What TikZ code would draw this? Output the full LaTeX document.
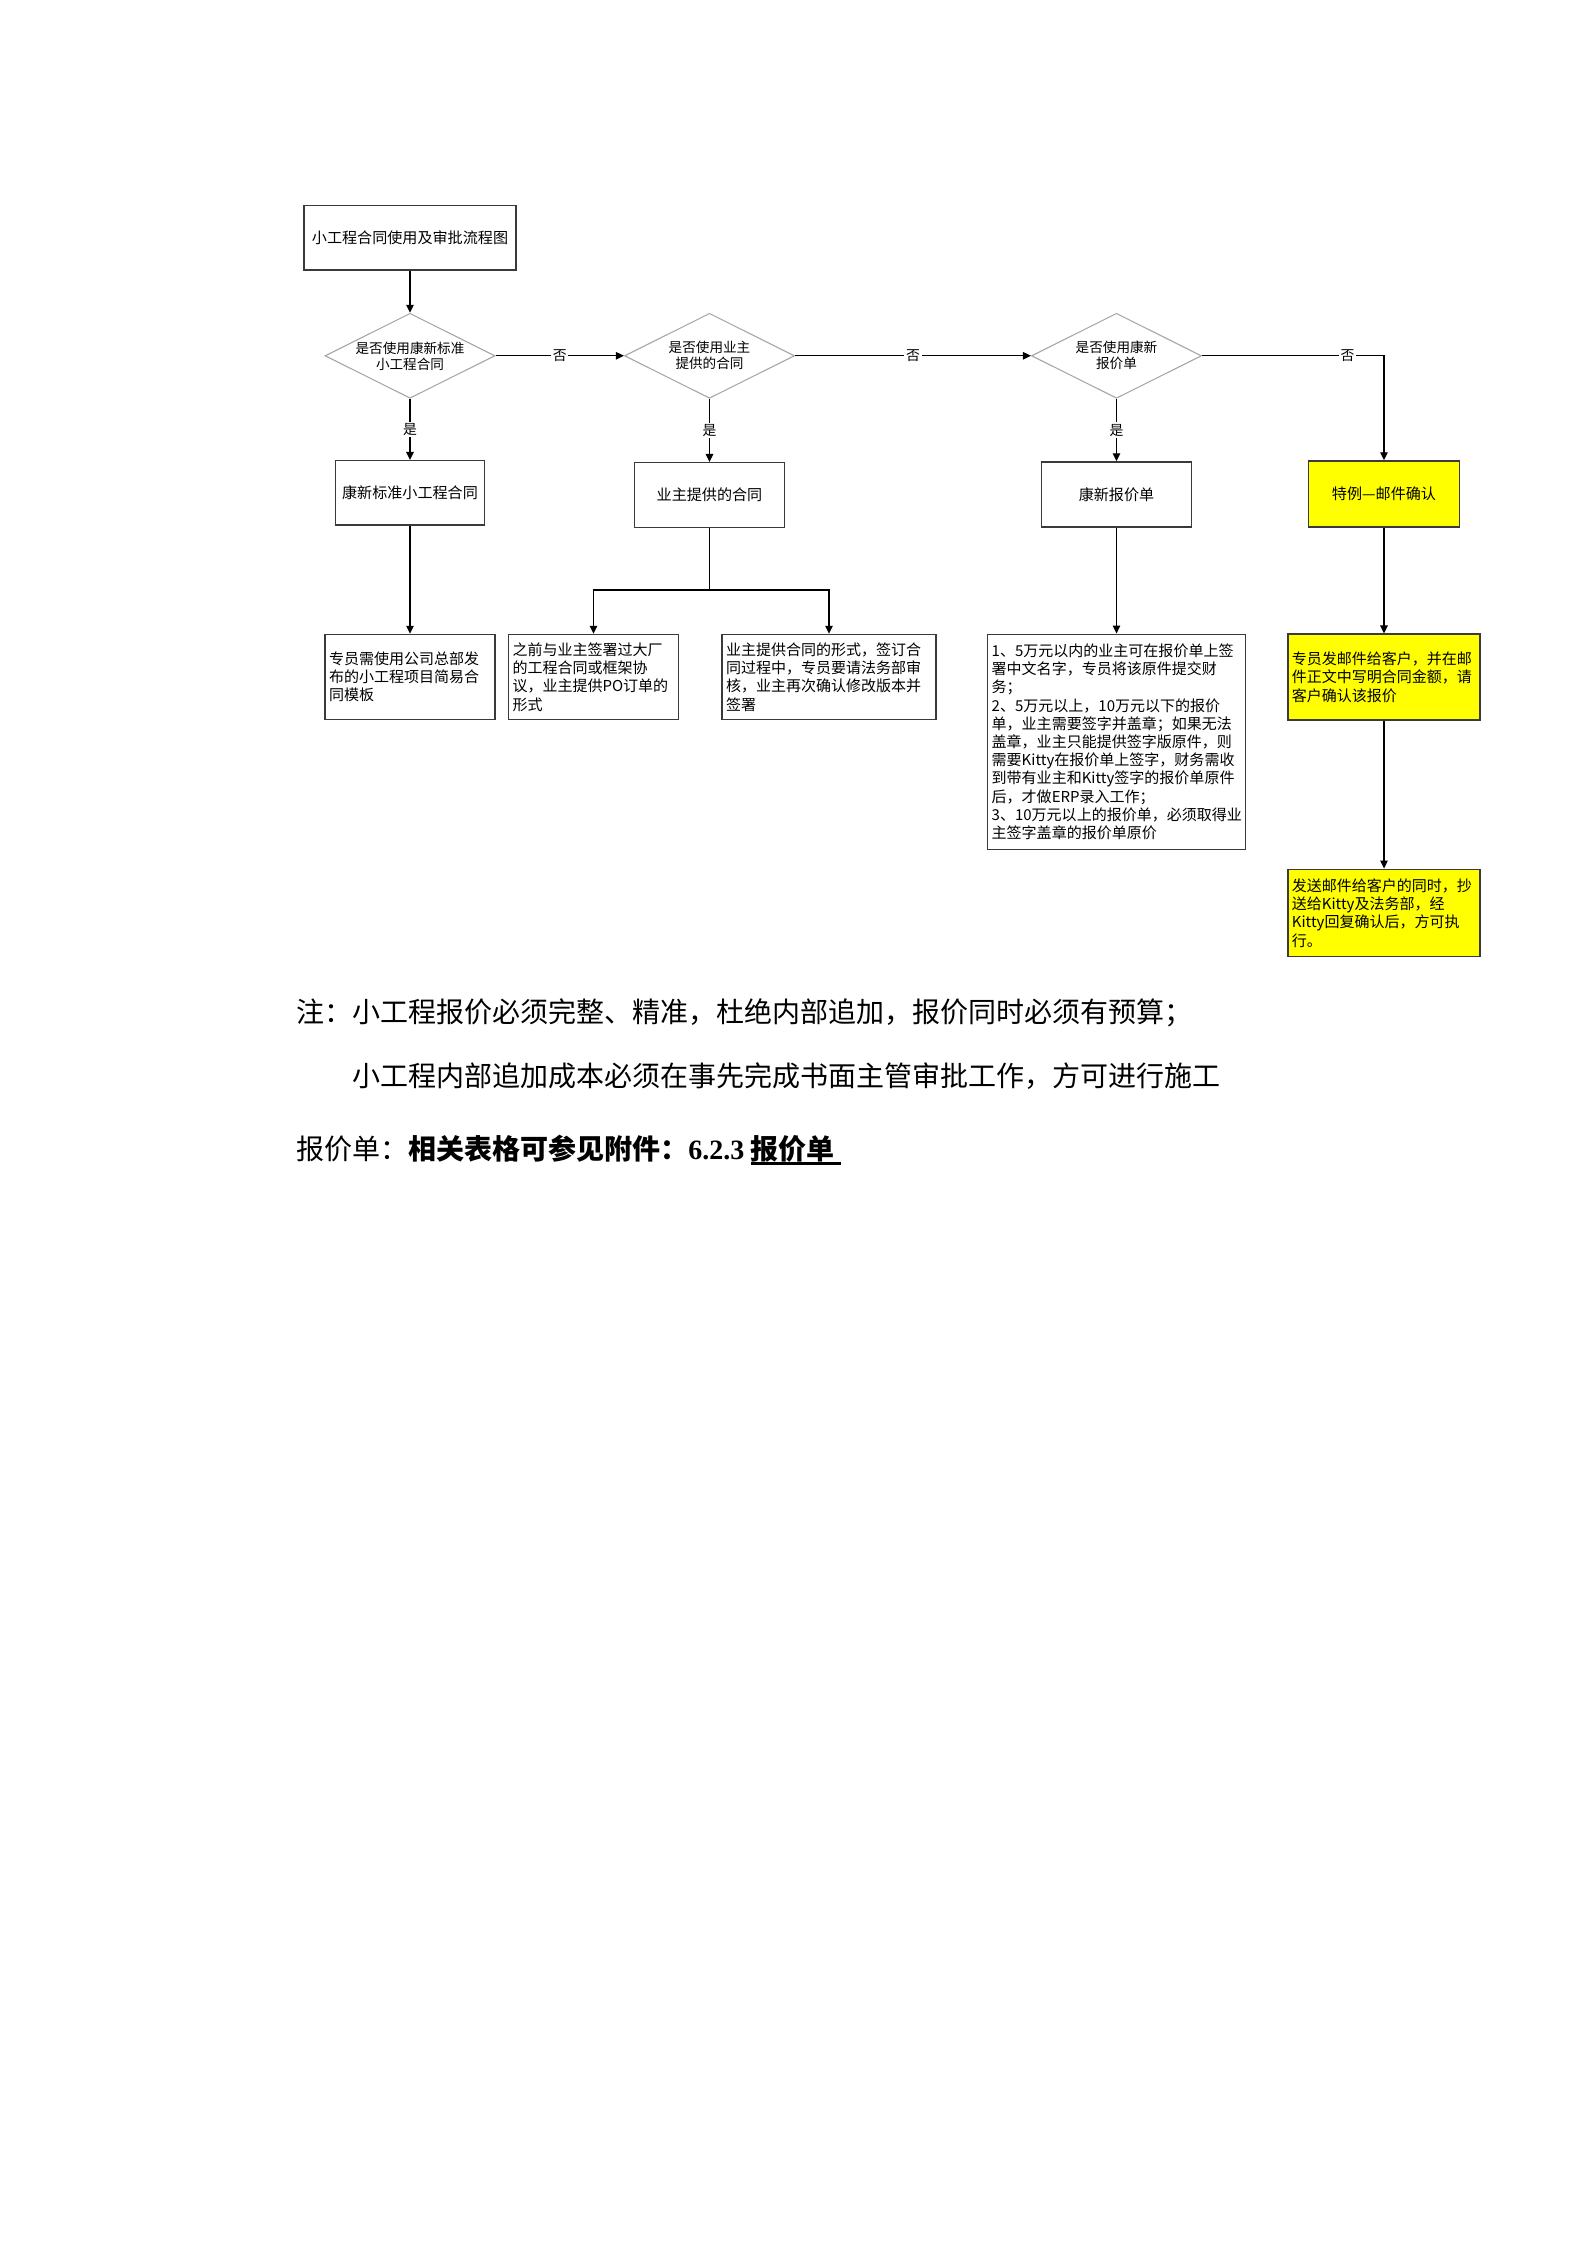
\documentclass[tikz,border=0pt]{standalone}
\usepackage{fontspec}
\setmainfont{Noto Sans CJK SC}
\newfontfamily\lser{Liberation Serif}
\usetikzlibrary{shapes.geometric,arrows.meta}
\definecolor{bord}{HTML}{3A3A3A}
\definecolor{yel}{HTML}{FFFF00}
\newcommand\myul[1]{\setbox0\hbox{#1}\rlap{\rule[-1.9pt]{\wd0}{0.9pt}}\box0}
\tikzset{
  pxs/.style 2 args={minimum width=#1*0.37505pt, minimum height=#2*0.37505pt},
  tw/.style={text width=#1*0.37505pt},
  box/.style={draw=bord, line width=0.55pt, fill=white, inner sep=0pt, font=\fontsize{5.66}{6.8}\selectfont},
  ybox/.style={box, fill=yel},
  tbox/.style={draw=bord, line width=0.55pt, fill=white, inner xsep=1.5pt, inner ysep=0pt, align=left, font=\fontsize{5.63}{6.83}\selectfont},
  ytbox/.style={tbox, fill=yel},
  dia/.style={diamond, draw=black!35, line width=0.4pt, fill=white, inner sep=0pt, minimum width=170*0.37505pt, minimum height=85*0.37505pt},
  dtxt/.style={align=center, inner sep=0pt, font=\fontsize{5.1}{6.0}\selectfont},
  conn/.style={draw=black, line width=0.5pt, -{Triangle[length=3pt,width=2.8pt]}},
  plain/.style={draw=black, line width=0.5pt},
  lbl/.style={fill=white, inner sep=0.6pt, font=\fontsize{5.2}{6}\selectfont},
  note/.style={anchor=base west, inner sep=0pt, font=\fontsize{10.5}{12.6}\selectfont},
}
\begin{document}
\begin{tikzpicture}[x=0.37505pt, y=-0.37505pt]
\useasboundingbox[fill=white] (0,0) rectangle (1587,2245);

% top row
\node[box, pxs={212.4}{64.3}] (title) at (410,237.8) {小工程合同使用及审批流程图};

\node[dia] (d1) at (410,355.8) {};
\node[dtxt] (d1t) at (d1.center) {是否使用康新标准\\小工程合同};
\node[dia] (d2) at (709.5,355.8) {};
\node[dtxt] (d2t) at (d2.center) {是否使用业主\\提供的合同};
\node[dia] (d3) at (1116.5,355.8) {};
\node[dtxt] (d3t) at (d3.center) {是否使用康新\\报价单};

\node[box, pxs={149.3}{64.3}] (b1) at (410,492.8) {康新标准小工程合同};
\node[box, pxs={150}{64.6}] (b2) at (709.5,495) {业主提供的合同};
\node[box, pxs={149.6}{65}] (b3) at (1116.5,494.5) {康新报价单};
\node[ybox, pxs={150.9}{66}] (y1) at (1384,494) {特例—邮件确认};

% lower boxes
\node[tbox, tw=162, minimum height=85*0.37505pt] (bA) at (410,677)
  {专员需使用公司总部发\\布的小工程项目简易合\\同模板};
\node[tbox, tw=162, minimum height=85*0.37505pt] (bB) at (593.5,677)
  {之前与业主签署过大厂\\的工程合同或框架协\\议，业主提供PO订单的\\形式};
\node[tbox, tw=206, minimum height=85*0.37505pt] (bC) at (829,677)
  {业主提供合同的形式，签订合\\同过程中，专员要请法务部审\\核，业主再次确认修改版本并\\签署};
\node[tbox, tw=249.6, minimum height=215*0.37505pt] (bD) at (1116.5,741.8)
  {1、5万元以内的业主可在报价单上签\\署中文名字，专员将该原件提交财\\务；\\2、5万元以上，10万元以下的报价\\单，业主需要签字并盖章；如果无法\\盖章，业主只能提供签字版原件，则\\需要Kitty在报价单上签字，财务需收\\到带有业主和Kitty签字的报价单原件\\后，才做ERP录入工作；\\3、10万元以上的报价单，必须取得业\\主签字盖章的报价单原价};
\node[ytbox, tw=184.3, minimum height=86*0.37505pt] (y2) at (1384,677.2)
  {专员发邮件给客户，并在邮\\件正文中写明合同金额，请\\客户确认该报价};
\node[ytbox, tw=184.3, minimum height=87.4*0.37505pt] (y3) at (1384,913)
  {发送邮件给客户的同时，抄\\送给Kitty及法务部，经\\Kitty回复确认后，方可执\\行。};

% connectors
\draw[conn] (title.south) -- (d1.north);
\draw[conn] (d1.east) -- node[lbl] (l1) {否} (d2.west);
\draw[conn] (d2.east) -- node[lbl] (l2) {否} (d3.west);
\draw[conn] (d3.east) -| node[lbl, pos=0.4] (l3) {否} (y1.north);
\draw[conn] (d1.south) -- node[lbl] (l4) {是} (b1.north);
\draw[conn] (d2.south) -- node[lbl] (l5) {是} (b2.north);
\draw[conn] (d3.south) -- node[lbl] (l6) {是} (b3.north);

\draw[conn] (b1.south) -- (bA.north);
\coordinate (br) at (709.5,590);
\draw[plain] (b2.south) -- (br);
\draw[conn] (br) -| (bB.north);
\draw[conn] (br) -| (bC.north);
\draw[conn] (b3.south) -- (bD.north);
\draw[conn] (y1.south) -- (y2.north);
\draw[conn] (y2.south) -- (y3.north);

% notes
\node[note] (n1) at (296,1022.6) {注：小工程报价必须完整、精准，杜绝内部追加，报价同时必须有预算；};
\node[note] (n2) at (352,1086.6) {小工程内部追加成本必须在事先完成书面主管审批工作，方可进行施工};
\node[note] (n3) at (296,1159.6) {报价单：\textbf{相关表格可参见附件：{\lser 6.2.3} \myul{报价单\ }}};
\end{tikzpicture}
\end{document}
